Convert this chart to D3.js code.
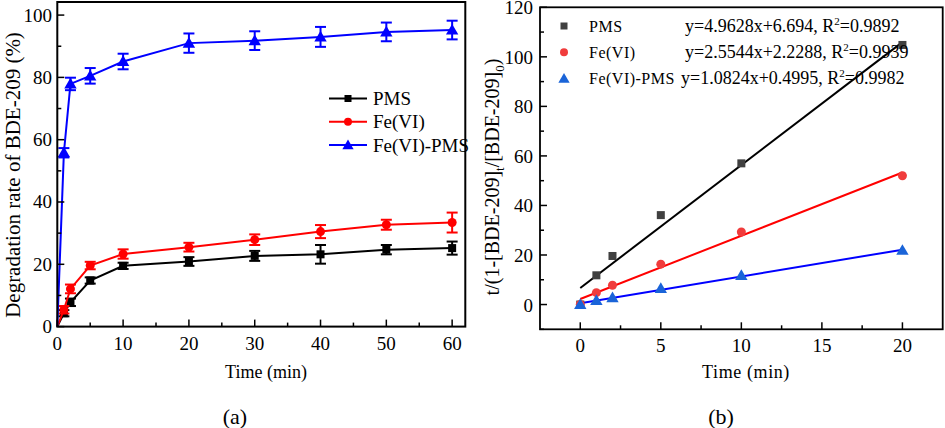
<!DOCTYPE html>
<html><head><meta charset="utf-8">
<script src="https://cdn.jsdelivr.net/npm/d3@7/dist/d3.min.js"></script>
<style>body{margin:0;background:#fff}svg{display:block}text{font-family:"Liberation Serif","Times New Roman",serif;fill:#000}</style>
</head><body><svg id="c" width="945" height="428"></svg>
<script>
// ---- Panel (a) data ----
const timeA = [0, 1, 2, 5, 10, 20, 30, 40, 50, 60];
const pmsA = [0, 4.3, 7.8, 14.8, 19.5, 20.9, 22.7, 23.2, 24.7, 25.2];
const pmsErr = [0, 1.0, 1.2, 1.0, 1.0, 1.4, 1.6, 3.0, 1.5, 2.1];
const feA = [0, 5.4, 12.1, 19.6, 23.3, 25.5, 27.9, 30.5, 32.7, 33.4];
const feErr = [0, 1.2, 1.4, 1.2, 1.5, 1.4, 1.7, 2.1, 1.6, 3.2];
const fePmsA = [0, 55.8, 77.9, 80.5, 85.1, 91.0, 91.8, 93.0, 94.6, 95.2];
const fePmsErr = [0, 1.5, 2.0, 2.5, 2.5, 3.1, 3.0, 3.2, 3.0, 3.0];
const seriesNames = ["PMS", "Fe(VI)", "Fe(VI)-PMS"];
const xTicksA = [0, 10, 20, 30, 40, 50, 60];
const yTicksA = [0, 20, 40, 60, 80, 100];

// ---- Panel (b) data ----
const timeB = [0, 1, 2, 5, 10, 20];
const pmsB = [0, 11.8, 19.6, 36.1, 57.0, 104.8];
const feB = [0, 4.8, 7.8, 16.3, 29.3, 52.0];
const fePmsB = [0, 1.7, 2.8, 6.5, 11.8, 21.9];
const slopes = [4.9628, 2.5544, 1.0824];
const intercepts = [6.694, 2.2288, 0.4995];
const r2 = ["0.9892", "0.9939", "0.9982"];
const xTicksB = [0, 5, 10, 15, 20];
const yTicksB = [0, 20, 40, 60, 80, 100, 120];

const svg = d3.select("#c");
const FS = 19;

function frame(g, x0, y0, x1, y1, w) {
  g.append("rect").attr("x", x0).attr("y", y0).attr("width", x1 - x0).attr("height", y1 - y0)
    .attr("fill", "none").attr("stroke", "#000").attr("stroke-width", w);
}
function ticks(g, xs, ys, xMaj, xMin, yMaj, yMin, ml, mn) {
  const [yb] = ys.range();
  const xl = xs.range()[0];
  xMaj.forEach(v => g.append("line").attr("x1", xs(v)).attr("x2", xs(v)).attr("y1", yb).attr("y2", yb - ml).attr("stroke", "#000").attr("stroke-width", 1.5));
  xMin.forEach(v => g.append("line").attr("x1", xs(v)).attr("x2", xs(v)).attr("y1", yb).attr("y2", yb - mn).attr("stroke", "#000").attr("stroke-width", 1.5));
  yMaj.forEach(v => g.append("line").attr("y1", ys(v)).attr("y2", ys(v)).attr("x1", xl).attr("x2", xl + ml).attr("stroke", "#000").attr("stroke-width", 1.5));
  yMin.forEach(v => g.append("line").attr("y1", ys(v)).attr("y2", ys(v)).attr("x1", xl).attr("x2", xl + mn).attr("stroke", "#000").attr("stroke-width", 1.5));
}
function marker(g, type, x, y, size, color) {
  if (type === "sq") g.append("rect").attr("x", x - size / 2).attr("y", y - size / 2).attr("width", size).attr("height", size).attr("fill", color);
  else if (type === "ci") g.append("circle").attr("cx", x).attr("cy", y).attr("r", size / 2).attr("fill", color);
  else g.append("path").attr("d", d3.symbol(d3.symbolTriangle, size * size * 0.55)()).attr("transform", `translate(${x},${y + 1})`).attr("fill", color);
}

// ================= Panel (a) =================
{
  const g = svg.append("g");
  const xs = d3.scaleLinear().domain([0, 62]).range([57.3, 465.3]);
  const ys = d3.scaleLinear().domain([0, 104.2]).range([326.6, 2]);
  const sets = [
    {v: pmsA, e: pmsErr, c: "#000", m: "sq", s: 8},
    {v: feA, e: feErr, c: "#ff0000", m: "ci", s: 9},
    {v: fePmsA, e: fePmsErr, c: "#0000ff", m: "tr", s: 11}
  ];
  const line = d3.line().x((d, i) => xs(timeA[i])).y(d => ys(d));
  sets.forEach(S => {
    g.append("path").attr("d", line(S.v)).attr("fill", "none").attr("stroke", S.c).attr("stroke-width", 2);
    S.v.forEach((v, i) => {
      if (i === 0) return;
      const x = xs(timeA[i]);
      const lo = ys(v - S.e[i]), hi = ys(v + S.e[i]);
      g.append("line").attr("x1", x).attr("x2", x).attr("y1", lo).attr("y2", hi).attr("stroke", S.c).attr("stroke-width", 2);
      [lo, hi].forEach(yy => g.append("line").attr("x1", x - 5.5).attr("x2", x + 5.5).attr("y1", yy).attr("y2", yy).attr("stroke", S.c).attr("stroke-width", 2));
      marker(g, S.m, x, ys(v), S.s, S.c);
    });
  });
  frame(g, 57.3, 2, 465.3, 326.6, 2);
  ticks(g, xs, ys, xTicksA, [5, 15, 25, 35, 45, 55], yTicksA, [10, 30, 50, 70, 90], 7, 4);
  xTicksA.forEach(v => g.append("text").attr("x", xs(v)).attr("y", 350).attr("text-anchor", "middle").attr("font-size", FS).text(v));
  yTicksA.forEach(v => g.append("text").attr("x", 52).attr("y", ys(v) + 6.5).attr("text-anchor", "end").attr("font-size", FS).text(v));
  g.append("text").attr("x", 266).attr("y", 378).attr("text-anchor", "middle").attr("font-size", 18).text("Time (min)");
  g.append("text").attr("transform", "translate(20,175) rotate(-90)").attr("text-anchor", "middle").attr("font-size", 21).text("Degradation rate of BDE-209 (%)");
  g.append("text").attr("x", 235).attr("y", 424).attr("text-anchor", "middle").attr("font-size", 22).text("(a)");
  // legend
  sets.forEach((S, i) => {
    const y = 98.5 + i * 23.3;
    g.append("line").attr("x1", 329).attr("x2", 367).attr("y1", y).attr("y2", y).attr("stroke", S.c).attr("stroke-width", 2);
    marker(g, S.m, 348, y, S.s - 1, S.c);
    g.append("text").attr("x", 373).attr("y", y + 6.5).attr("font-size", FS).text(seriesNames[i]);
  });
}

// ================= Panel (b) =================
{
  const g = svg.append("g");
  const xs = d3.scaleLinear().domain([-2.5, 22.5]).range([540, 942.7]);
  const ys = d3.scaleLinear().domain([-10, 120]).range([329.3, 7.3]);
  const sets = [
    {v: pmsB, c: "#404040", lc: "#000", m: "sq", s: 8},
    {v: feB, c: "#f03c3c", lc: "#ff0000", m: "ci", s: 9},
    {v: fePmsB, c: "#1a64d8", lc: "#0000ff", m: "tr", s: 11}
  ];
  sets.forEach((S, k) => {
    g.append("line").attr("x1", xs(0)).attr("x2", xs(20))
      .attr("y1", ys(intercepts[k])).attr("y2", ys(slopes[k] * 20 + intercepts[k]))
      .attr("stroke", S.lc).attr("stroke-width", 2);
  });
  sets.forEach(S => S.v.forEach((v, i) => marker(g, S.m, xs(timeB[i]), ys(v), S.s, S.c)));
  frame(g, 540, 7.3, 942.7, 329.3, 1.8);
  ticks(g, xs, ys, xTicksB, [2.5, 7.5, 12.5, 17.5], yTicksB, [-10, 10, 30, 50, 70, 90, 110], 7, 4);
  xTicksB.forEach(v => g.append("text").attr("x", xs(v)).attr("y", 352).attr("text-anchor", "middle").attr("font-size", FS).text(v));
  yTicksB.forEach(v => g.append("text").attr("x", 533).attr("y", ys(v) + 7).attr("text-anchor", "end").attr("font-size", FS).text(v));
  g.append("text").attr("x", 746).attr("y", 378).attr("text-anchor", "middle").attr("font-size", 18).attr("letter-spacing", 0.6).text("Time (min)");
  const yl = g.append("text").attr("transform", "translate(499,177) rotate(-90)").attr("text-anchor", "middle").attr("font-size", 20);
  yl.append("tspan").text("t/(1-[BDE-209]");
  yl.append("tspan").attr("dy", 5).attr("font-size", 13).text("t");
  yl.append("tspan").attr("dy", -5).text("/[BDE-209]");
  yl.append("tspan").attr("dy", 5).attr("font-size", 13).text("0");
  yl.append("tspan").attr("dy", -5).text(")");
  g.append("text").attr("x", 721).attr("y", 424).attr("text-anchor", "middle").attr("font-size", 22).text("(b)");
  // legend
  sets.forEach((S, i) => {
    const y = 26 + i * 26.2;
    marker(g, S.m, 564, y, S.s - 1, S.c);
    g.append("text").attr("x", 589).attr("y", y + 6).attr("font-size", 16).attr("letter-spacing", 0.5).text(seriesNames[i]);
    const t = g.append("text").attr("x", i === 2 ? 681 : 685).attr("y", y + 6).attr("font-size", 18);
    t.append("tspan").text(`y=${slopes[i]}x+${intercepts[i]}, R`);
    t.append("tspan").attr("dy", -7).attr("font-size", 11).text("2");
    t.append("tspan").attr("dy", 7).text(`=${r2[i]}`);
  });
}
</script></body></html>
